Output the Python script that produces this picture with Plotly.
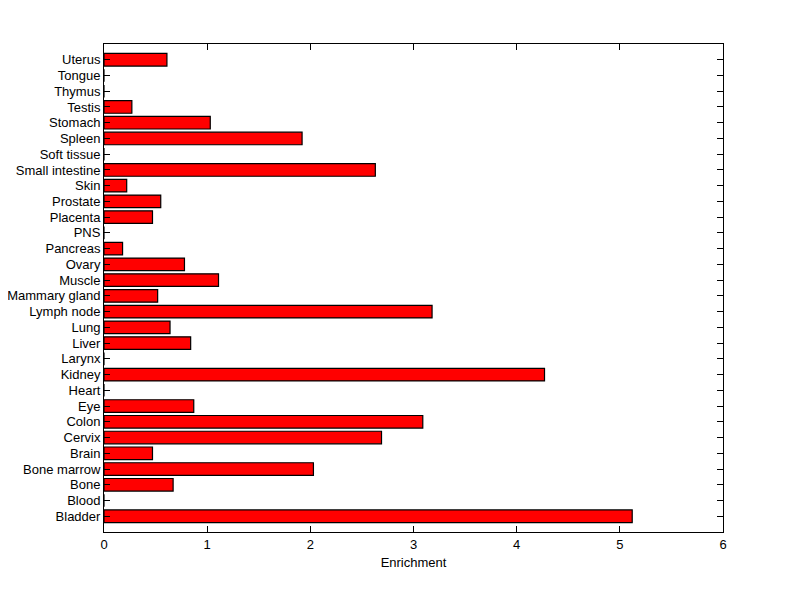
import plotly.graph_objects as go

tissues = ["Bladder", "Blood", "Bone", "Bone marrow", "Brain", "Cervix", "Colon", "Eye",
           "Heart", "Kidney", "Larynx", "Liver", "Lung", "Lymph node", "Mammary gland",
           "Muscle", "Ovary", "Pancreas", "PNS", "Placenta", "Prostate", "Skin",
           "Small intestine", "Soft tissue", "Spleen", "Stomach", "Testis", "Thymus",
           "Tongue", "Uterus"]
enrichment = [5.12, 0, 0.67, 2.03, 0.47, 2.69, 3.09, 0.87,
              0, 4.27, 0, 0.84, 0.64, 3.18, 0.52,
              1.11, 0.78, 0.18, 0, 0.47, 0.55, 0.22,
              2.63, 0, 1.92, 1.03, 0.27, 0,
              0, 0.61]
x_ticks = [0, 1, 2, 3, 4, 5, 6]

fig = go.Figure(go.Bar(
    x=enrichment, y=list(range(len(tissues))), orientation="h",
    width=0.8,
    marker=dict(color="#ff0000", line=dict(color="black", width=1.2)),
))

font = dict(family="Liberation Sans, Arial, sans-serif", size=13, color="black")
fig.update_layout(
    width=792, height=591,
    margin=dict(l=96, r=77, t=36, b=67),
    paper_bgcolor="white", plot_bgcolor="white",
    font=font, showlegend=False, bargap=0.2,
    xaxis=dict(range=[0, 6], tickvals=x_ticks, ticks="inside", ticklen=6,
               tickcolor="black", showline=True, linecolor="black", linewidth=1,
               mirror="ticks", showgrid=False, zeroline=False, automargin=False,
               title=dict(text="Enrichment", standoff=7, font=font)),
    yaxis=dict(range=[-1, 30], tickvals=list(range(len(tissues))), ticktext=tissues,
               ticks="inside", ticklen=6, tickcolor="black", showline=True,
               linecolor="black", linewidth=1, mirror="ticks", showgrid=False,
               zeroline=False, automargin=False),
)
fig.write_html("out.html")
